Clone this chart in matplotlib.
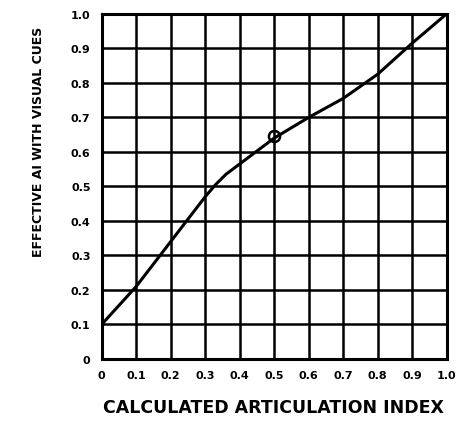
import matplotlib.pyplot as plt

# calculated AI vs effective AI with visual cues
calc_ai = [0.0, 0.1, 0.2, 0.25, 0.3, 0.33, 0.36, 0.4, 0.5, 0.6, 0.7, 0.8, 0.9, 1.0]
effective_ai = [0.1, 0.21, 0.34, 0.405, 0.47, 0.505, 0.535, 0.565, 0.64, 0.70, 0.755, 0.825, 0.915, 1.0]
marked_x = [0.5]
marked_y = [0.645]

x_ticks = [0, 0.1, 0.2, 0.3, 0.4, 0.5, 0.6, 0.7, 0.8, 0.9, 1.0]
x_tick_labels = ['0', '0.1', '0.2', '0.3', '0.4', '0.5', '0.6', '0.7', '0.8', '0.9', '1.0']
y_ticks = [0, 0.1, 0.2, 0.3, 0.4, 0.5, 0.6, 0.7, 0.8, 0.9, 1.0]
y_tick_labels = ['0', '0.1', '0.2', '0.3', '0.4', '0.5', '0.6', '0.7', '0.8', '0.9', '1.0']

fig = plt.figure(figsize=(4.58, 4.27), dpi=100)
ax = fig.add_axes([0.222, 0.157, 0.753, 0.808])

ax.plot(calc_ai, effective_ai, color='black', linewidth=2.2, zorder=3)
ax.plot(marked_x, marked_y, marker='o', markersize=8, markerfacecolor='none',
        markeredgecolor='black', markeredgewidth=1.8, linestyle='none', zorder=4)

ax.set_xlim(0, 1.0)
ax.set_ylim(0, 1.0)
ax.set_xticks(x_ticks)
ax.set_xticklabels(x_tick_labels)
ax.set_yticks(y_ticks)
ax.set_yticklabels(y_tick_labels)
ax.grid(True, color='black', linewidth=1.8)
ax.set_axisbelow(True)
for s in ax.spines.values():
    s.set_linewidth(2.2)
ax.tick_params(length=0, pad=8, labelsize=8)
for lab in ax.get_xticklabels() + ax.get_yticklabels():
    lab.set_fontweight('bold')

fig.text(0.598, 0.045, 'CALCULATED ARTICULATION INDEX', ha='center', va='center',
         fontsize=12.5, fontweight='heavy')
fig.text(0.085, 0.667, 'EFFECTIVE AI WITH VISUAL CUES', ha='center', va='center',
         rotation=90, fontsize=9, fontweight='heavy')

fig.savefig('out.png', dpi=100)
